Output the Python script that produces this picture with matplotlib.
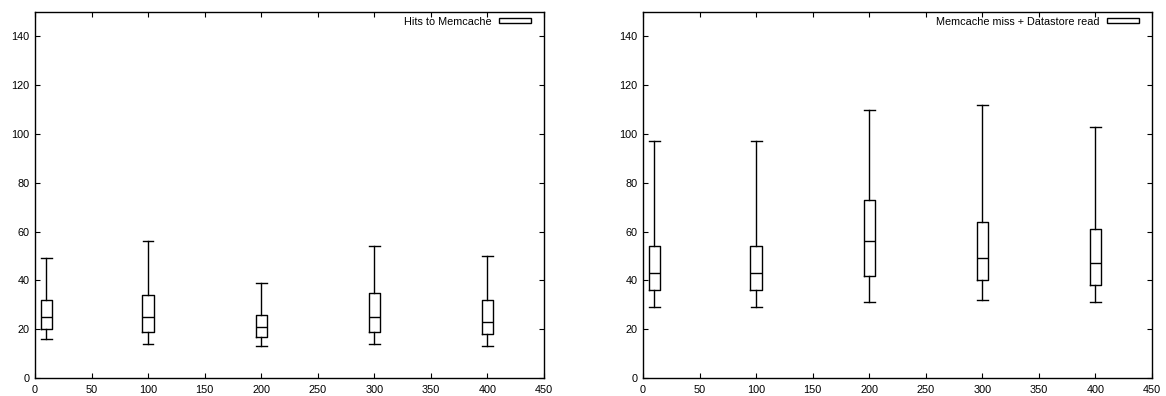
import matplotlib.pyplot as plt
from matplotlib.patches import Patch

plt.rcParams['font.family'] = ['Liberation Sans', 'DejaVu Sans']

positions = [10, 100, 200, 300, 400]

# whisker low, q1, median, q3, whisker high
hits_low = [16, 14, 13, 14, 13]
hits_q1 = [20, 19, 17, 19, 18]
hits_med = [25, 25, 21, 25, 23]
hits_q3 = [32, 34, 26, 35, 32]
hits_high = [49, 56, 39, 54, 50]

miss_low = [29, 29, 31, 32, 31]
miss_q1 = [36, 36, 42, 40, 38]
miss_med = [43, 43, 56, 49, 47]
miss_q3 = [54, 54, 73, 64, 61]
miss_high = [97, 97, 110, 112, 103]

x_ticks = [0, 50, 100, 150, 200, 250, 300, 350, 400, 450]
y_ticks = [0, 20, 40, 60, 80, 100, 120, 140]

panels = [
    ("Hits to Memcache", hits_low, hits_q1, hits_med, hits_q3, hits_high),
    ("Memcache miss + Datastore read", miss_low, miss_q1, miss_med, miss_q3, miss_high),
]

fig = plt.figure(figsize=(11.66, 3.96), dpi=100)
axes = [fig.add_axes([0.0300, 0.0455, 0.4365, 0.9242]),
        fig.add_axes([0.5515, 0.0455, 0.4365, 0.9242])]

for ax, (label, lo, q1, med, q3, hi) in zip(axes, panels):
    stats = []
    for i in range(len(positions)):
        stats.append({"whislo": lo[i], "q1": q1[i], "med": med[i],
                      "q3": q3[i], "whishi": hi[i], "fliers": []})
    ax.bxp(stats, positions=positions, widths=10, showfliers=False,
           manage_ticks=False,
           boxprops=dict(color="black", lw=1),
           medianprops=dict(color="black", lw=1),
           whiskerprops=dict(color="black", lw=1),
           capprops=dict(color="black", lw=1),
           capwidths=9.5)
    ax.set_xlim(0, 450)
    ax.set_ylim(0, 150)
    ax.set_xticks(x_ticks)
    ax.set_yticks(y_ticks)
    ax.tick_params(direction="in", length=3.6, width=0.8, top=True, right=True,
                   labelsize=7.8)
    ax.tick_params(axis="x", pad=5)
    ax.tick_params(axis="y", pad=4)
    for s in ax.spines.values():
        s.set_linewidth(1)
    handle = Patch(facecolor="white", edgecolor="black", lw=1)
    ax.legend([handle], [label], loc="upper right", frameon=False,
              bbox_to_anchor=(0.975, 0.987),
              fontsize=7.8, markerfirst=False, handlelength=3.0,
              handleheight=0.35, borderpad=0, borderaxespad=0,
              handletextpad=0.65)

fig.savefig("out.png", dpi=100)
